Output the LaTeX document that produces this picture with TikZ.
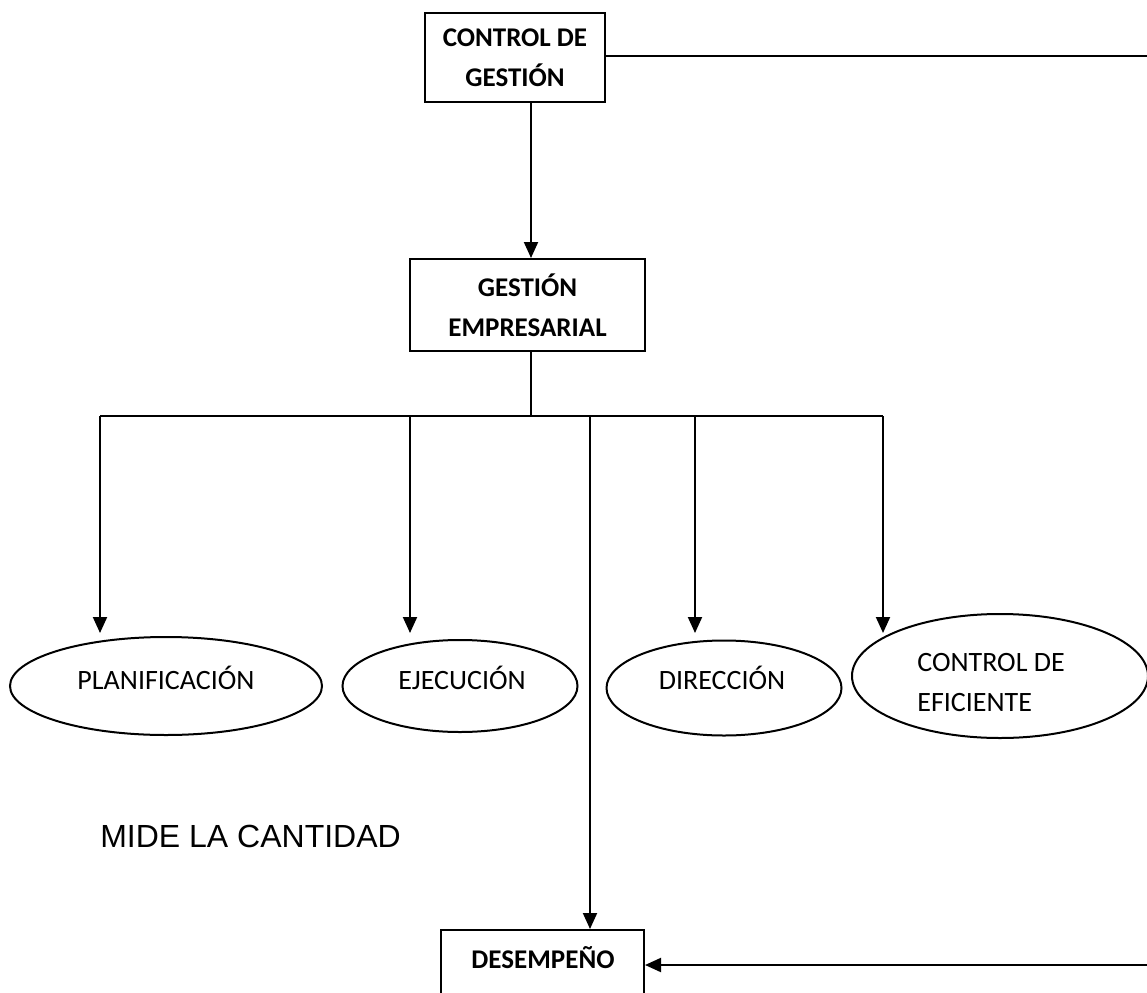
\documentclass[tikz,border=0pt]{standalone}
\usepackage{fontspec}
\setmainfont{Carlito}
\newfontfamily\arialfont{Liberation Sans}
\usetikzlibrary{shapes.geometric,arrows.meta}
\begin{document}
\begin{tikzpicture}[x=1pt,y=-1pt,
  line width=2pt,
  box/.style={draw,rectangle,inner sep=0pt,align=center,
    font=\fontsize{27}{40}\selectfont\bfseries},
  oval/.style={draw,ellipse,inner sep=0pt},
  label/.style={font=\fontsize{28}{40}\selectfont},
  arr/.style={-{Triangle[length=16pt,width=14pt]}}]
\useasboundingbox (0,0) rectangle (1147,992);
\clip (0,0) rectangle (1147,992);

% boxes
\node[box,minimum width=180pt,minimum height=89pt] (cg) at (515,57.5)
  {CONTROL DE\\GESTIÓN};
\node[box,minimum width=235pt,minimum height=92pt] (ge) at (527.5,305)
  {GESTIÓN\\EMPRESARIAL};
\node[box,minimum width=203pt,minimum height=100pt,anchor=north] (des) at (542.5,929) {};
\node[font=\fontsize{27}{30}\selectfont\bfseries] (destxt) at (543,958) {DESEMPEÑO};

% ellipses
\node[oval,minimum width=312pt,minimum height=98pt] (plan) at (166,686) {};
\node[label] (plantxt) at (166,678) {PLANIFICACIÓN};
\node[oval,minimum width=235pt,minimum height=92pt] (ejec) at (460,686) {};
\node[label] (ejectxt) at (462,678) {EJECUCIÓN};
\node[oval,minimum width=235pt,minimum height=95pt] (dir) at (724,688) {};
\node[label] (dirtxt) at (722,678) {DIRECCIÓN};
\node[oval,minimum width=296pt,minimum height=124pt] (cef) at (1000,676) {};
\node[label,align=left,anchor=west] (ceftxt) at (913,683)
  {CONTROL DE\\EFICIENTE};

% free label
\node[font=\arialfont\fontsize{32}{36}\selectfont,anchor=west] (mide) at (96,836)
  {MIDE LA CANTIDAD};

% branch points
\coordinate (hub) at (531,416);
\coordinate (d1) at (100,416);
\coordinate (d2) at (410,416);
\coordinate (d3) at (590,416);
\coordinate (d4) at (695,416);
\coordinate (d5) at (883,416);
\coordinate (tipline) at (0,633);
\coordinate (rt) at (1150,56);
\coordinate (rb) at (1150,965);

% connectors
\draw[line width=1.6pt] (cg.east |- rt) -- (rt);
\draw[arr] (cg.south -| hub) -- (ge.north -| hub);
\draw[line width=1.4pt] (ge.south -| hub) -- (hub);
\draw[line width=1.6pt] (d1) -- (d5);
\draw[arr] (d1) -- (d1 |- tipline);
\draw[arr] (d2) -- (d2 |- tipline);
\draw[arr] (d4) -- (d4 |- tipline);
\draw[arr] (d5) -- (d5 |- tipline);
\draw[arr] (d3) -- (d3 |- des.north);
\draw[arr] (rb) -- (rb -| des.east);
\end{tikzpicture}
\end{document}
